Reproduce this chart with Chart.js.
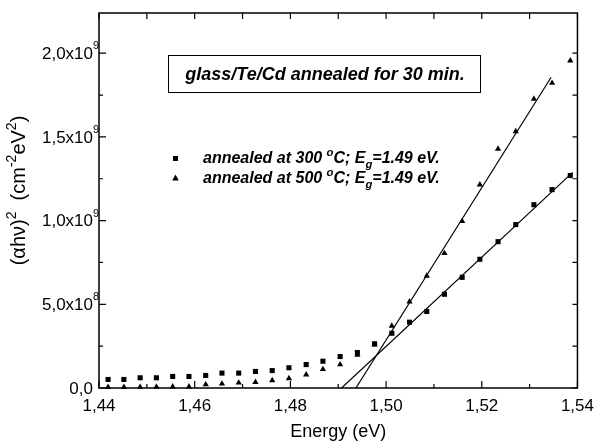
<!DOCTYPE html>
<html>
<head>
<meta charset="utf-8">
<script src="https://cdn.jsdelivr.net/npm/chart.js@4.4.1/dist/chart.umd.min.js"></script>
<style>
body{margin:0;background:#fff;}
</style>
</head>
<body>
<canvas id="myChart" width="602" height="443"></canvas>
<script>
// photon energy of each measured point (eV)
const energy=[1.4419,1.4452,1.4486,1.4520,1.4554,1.4588,1.4623,1.4657,1.4692,1.4727,1.4762,1.4797,1.4833,1.4868,
              1.4904,1.4940,1.4976,1.5012,1.5049,1.5085,1.5122,1.5159,1.5196,1.5234,1.5271,1.5309,1.5347,1.5385];
// (alpha h nu)^2 for the two samples
const annealed_300=[5.1e7,5.1e7,6.1e7,6.1e7,6.9e7,6.9e7,7.5e7,8.9e7,8.9e7,9.9e7,1.04e8,1.21e8,1.40e8,1.60e8,
                    1.88e8,2.12e8,2.64e8,3.27e8,3.93e8,4.57e8,5.60e8,6.61e8,7.69e8,8.74e8,9.76e8,1.095e9,1.185e9,1.269e9];
const annealed_500=[0.5e7,0.5e7,0.6e7,0.7e7,0.8e7,0.8e7,2.1e7,2.5e7,3.1e7,3.5e7,4.5e7,5.7e7,8.0e7,1.12e8,
                    1.40e8,1.98e8,2.58e8,3.71e8,5.16e8,6.70e8,8.05e8,9.96e8,1.215e9,1.428e9,1.533e9,1.727e9,1.822e9,1.955e9];
// linear fits (end points)
const fit_300_x=[1.4907,1.5390];
const fit_300_y=[0,1.288e9];
const fit_500_x=[1.4937,1.5345];
const fit_500_y=[0,1.856e9];

const x_ticks=[1.44,1.46,1.48,1.50,1.52,1.54];
const x_tick_labels=['1,44','1,46','1,48','1,50','1,52','1,54'];
const x_minor=[1.45,1.47,1.49,1.51,1.53];
const y_ticks=[0,5e8,1e9,1.5e9,2e9];
const y_tick_text=['0,0','5,0x10','1,0x10','1,5x10','2,0x10'];
const y_tick_exp=['','8','9','9','9'];
const y_minor=[2.5e8,7.5e8,1.25e9,1.75e9];

const box_text='glass/Te/Cd annealed for 30 min.';
const legend_300=[['annealed at 300 ','n'],['o','sup'],['C; E','n'],['g','sub'],['=1.49 eV.','n']];
const legend_500=[['annealed at 500 ','n'],['o','sup'],['C; E','n'],['g','sub'],['=1.49 eV.','n']];
const y_title=[['(αhν)','n'],['2','sup'],['  (cm','n'],['-2','sup'],['eV','n'],['2','sup'],[')','n']];

const FONT='"Liberation Sans", Arial, sans-serif';

function pts(xs,ys){
    return xs.map((v,i)=>({x:v,y:ys[i]}));
}

function rich_width(ctx,parts,size,style){
    let w=0;
    parts.forEach(p=>{
        const s=p[1]==='n'?size:size*0.7;
        ctx.font=`${style} ${s}px ${FONT}`;
        w+=ctx.measureText(p[0]).width;
    });
    return w;
}

function draw_rich(ctx,x,y,parts,size,style){
    parts.forEach(p=>{
        let s=size, dy=0;
        if(p[1]==='sup'){ s=size*0.7; dy=-size*0.45; }
        if(p[1]==='sub'){ s=size*0.7; dy=size*0.3; }
        ctx.font=`${style} ${s}px ${FONT}`;
        ctx.fillText(p[0],x,y+dy);
        x+=ctx.measureText(p[0]).width;
    });
}

const framePlugin={
    id:'frame',
    beforeDraw(chart){
        const ctx=chart.ctx;
        ctx.save();
        ctx.fillStyle='#fff';
        ctx.fillRect(0,0,chart.width,chart.height);
        ctx.restore();
    },
    afterDraw(chart){
        const {ctx,chartArea:a,scales:{x,y}}=chart;
        ctx.save();
        ctx.strokeStyle='#000';
        ctx.fillStyle='#000';
        ctx.lineWidth=1.5;
        ctx.strokeRect(a.left,a.top,a.right-a.left,a.bottom-a.top);
        ctx.lineWidth=1.2;
        ctx.beginPath();
        // bottom + top
        x_ticks.forEach(v=>{
            const px=x.getPixelForValue(v);
            ctx.moveTo(px,a.bottom); ctx.lineTo(px,a.bottom-7);
            ctx.moveTo(px,a.top); ctx.lineTo(px,a.top+6);
        });
        x_minor.forEach(v=>{
            const px=x.getPixelForValue(v);
            ctx.moveTo(px,a.bottom); ctx.lineTo(px,a.bottom-4);
            ctx.moveTo(px,a.top); ctx.lineTo(px,a.top+6);
        });
        // left + right
        y_ticks.forEach(v=>{
            const py=y.getPixelForValue(v);
            ctx.moveTo(a.left,py); ctx.lineTo(a.left+7,py);
            ctx.moveTo(a.right,py); ctx.lineTo(a.right-5,py);
        });
        y_minor.forEach(v=>{
            const py=y.getPixelForValue(v);
            ctx.moveTo(a.left,py); ctx.lineTo(a.left+4,py);
            ctx.moveTo(a.right,py); ctx.lineTo(a.right-5,py);
        });
        ctx.stroke();

        // y tick labels with exponent
        y_ticks.forEach((v,i)=>{
            const py=y.getPixelForValue(v)+1;
            ctx.font=`17px ${FONT}`;
            ctx.textAlign='right';
            ctx.textBaseline='middle';
            ctx.fillText(y_tick_text[i],a.left-6,py);
            if(y_tick_exp[i]){
                ctx.font=`11px ${FONT}`;
                ctx.textAlign='left';
                ctx.fillText(y_tick_exp[i],a.left-6,py-8);
            }
        });

        // y axis title, rotated
        ctx.textAlign='left';
        ctx.textBaseline='alphabetic';
        ctx.save();
        ctx.translate(25,(a.top+a.bottom)/2-10);
        ctx.rotate(-Math.PI/2);
        const tw=rich_width(ctx,y_title,20,'normal');
        draw_rich(ctx,-tw/2,0,y_title,20,'normal');
        ctx.restore();

        // title box
        ctx.lineWidth=1;
        ctx.strokeRect(168.5,55.5,312,37);
        ctx.font=`italic bold 18px ${FONT}`;
        ctx.textAlign='center';
        ctx.fillText(box_text,325,80);

        // legend
        ctx.textAlign='left';
        ctx.fillRect(173,156,5,5);
        draw_rich(ctx,203,163,legend_300,16,'italic bold');
        ctx.beginPath();
        ctx.moveTo(175.5,174.5); ctx.lineTo(178.8,180.5); ctx.lineTo(172.2,180.5);
        ctx.closePath(); ctx.fill();
        draw_rich(ctx,203,183,legend_500,16,'italic bold');
        ctx.restore();
    }
};

const ctx=document.getElementById('myChart').getContext('2d');
const myChart=new Chart(ctx,{
    type:'scatter',
    data:{
        datasets:[{
            label:'annealed at 300 °C',
            data:pts(energy,annealed_300),
            pointStyle:'rect',
            pointRadius:3.6,
            pointHoverRadius:3.6,
            backgroundColor:'#000',
            borderColor:'#000',
            borderWidth:0,
            clip:false
        },{
            label:'annealed at 500 °C',
            data:pts(energy,annealed_500),
            pointStyle:'triangle',
            pointRadius:3.6,
            pointHoverRadius:3.6,
            backgroundColor:'#000',
            borderColor:'#000',
            borderWidth:0,
            clip:false
        },{
            label:'fit 300',
            data:pts(fit_300_x,fit_300_y),
            showLine:true,
            pointRadius:0,
            borderColor:'#000',
            borderWidth:1.2
        },{
            label:'fit 500',
            data:pts(fit_500_x,fit_500_y),
            showLine:true,
            pointRadius:0,
            borderColor:'#000',
            borderWidth:1.2
        }]
    },
    options:{
        responsive:false,
        animation:false,
        devicePixelRatio:1,
        layout:{padding:{top:13,right:18,left:0,bottom:0}},
        plugins:{legend:{display:false},tooltip:{enabled:false}},
        scales:{
            x:{
                type:'linear',
                min:1.44,
                max:1.54,
                afterBuildTicks:axis=>{ axis.ticks=x_ticks.map(v=>({value:v})); },
                afterFit:scale=>{ scale.height=55; },
                grid:{display:false,drawTicks:false},
                border:{display:false},
                ticks:{
                    autoSkip:false,
                    maxRotation:0,
                    padding:8,
                    color:'#000',
                    font:{family:FONT,size:17},
                    callback:(v,i)=>x_tick_labels[i]
                },
                title:{
                    display:true,
                    text:'Energy (eV)',
                    color:'#000',
                    font:{family:FONT,size:18},
                    padding:{top:0,bottom:0}
                }
            },
            y:{
                type:'linear',
                min:0,
                max:2.24e9,
                afterFit:scale=>{ scale.width=99; },
                grid:{display:false,drawTicks:false},
                border:{display:false},
                ticks:{display:false}
            }
        }
    },
    plugins:[framePlugin]
});
</script>
</body>
</html>
